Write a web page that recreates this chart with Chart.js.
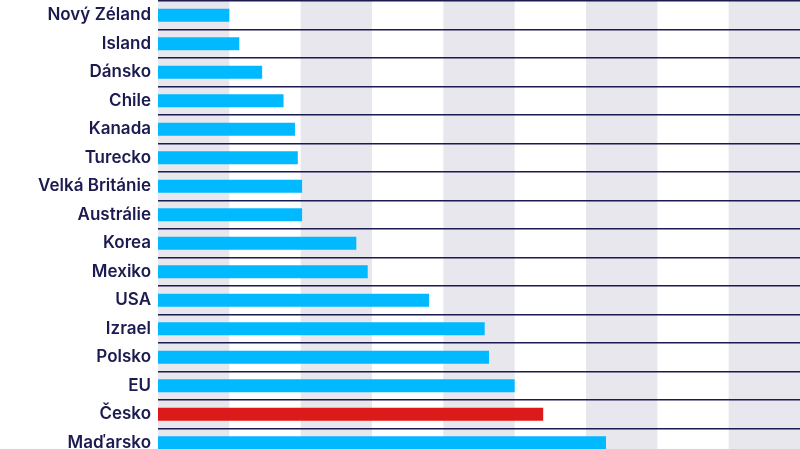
<!DOCTYPE html>
<html>
<head>
<meta charset="utf-8">
<script src="https://cdn.jsdelivr.net/npm/chart.js@4"></script>
<style>
  html, body { margin: 0; padding: 0; background: #fff; overflow: hidden; }
  #wrap { width: 800px; height: 457px; }
</style>
</head>
<body>
<div id="wrap"><canvas id="c"></canvas></div>
<script>
// země
const categories = [
  "Nový Zéland", "Island", "Dánsko", "Chile", "Kanada", "Turecko",
  "Velká Británie", "Austrálie", "Korea", "Mexiko", "USA", "Izrael",
  "Polsko", "EU", "Česko", "Maďarsko"
];
// hodnoty
const values = [5.0, 5.7, 7.3, 8.8, 9.6, 9.8, 10.1, 10.1, 13.9, 14.7, 19.0, 22.9, 23.2, 25.0, 27.0, 31.4];
const highlight = "Česko";
// pásy v pozadí
const xMax = 45;
const bandStep = 5;

const BLUE = "#00b9ff";
const RED = "#dc1a1a";
const NAVY = "#1b1b50";
const BAND = "#e7e7ed";

// střídavé svislé pásy
const bands = {
  id: "bands",
  beforeDraw(chart) {
    const { ctx, chartArea, scales } = chart;
    ctx.save();
    ctx.fillStyle = BAND;
    for (let v = 0, i = 0; v < xMax; v += bandStep, i++) {
      if (i % 2 !== 0) continue;
      const x0 = scales.x.getPixelForValue(v);
      const x1 = scales.x.getPixelForValue(Math.min(v + bandStep, xMax));
      ctx.fillRect(x0, chartArea.top, x1 - x0, chartArea.bottom - chartArea.top);
    }
    ctx.restore();
  },
};

new Chart(document.getElementById("c"), {
  type: "bar",
  data: {
    labels: categories,
    datasets: [{
      data: values,
      backgroundColor: categories.map((c) => (c === highlight ? RED : BLUE)),
      barPercentage: 0.45,
      categoryPercentage: 1,
      borderWidth: 0,
    }],
  },
  options: {
    indexAxis: "y",
    responsive: true,
    maintainAspectRatio: false,
    animation: false,
    layout: { padding: { top: 1, right: 0, bottom: 0, left: 0 } },
    plugins: { legend: { display: false }, tooltip: { enabled: false } },
    scales: {
      x: {
        min: 0,
        max: xMax,
        display: false,
      },
      y: {
        afterFit(scale) {
          scale.width = 158;
          scale.paddingTop = 0;
          scale.paddingBottom = 0;
        },
        border: { display: false },
        grid: {
          color: NAVY,
          lineWidth: 1.5,
          drawTicks: false,
          offset: true,
        },
        ticks: {
          color: NAVY,
          padding: 7,
          font: { family: "Inter", size: 17, weight: "600" },
        },
      },
    },
  },
  plugins: [bands],
});
</script>
</body>
</html>
